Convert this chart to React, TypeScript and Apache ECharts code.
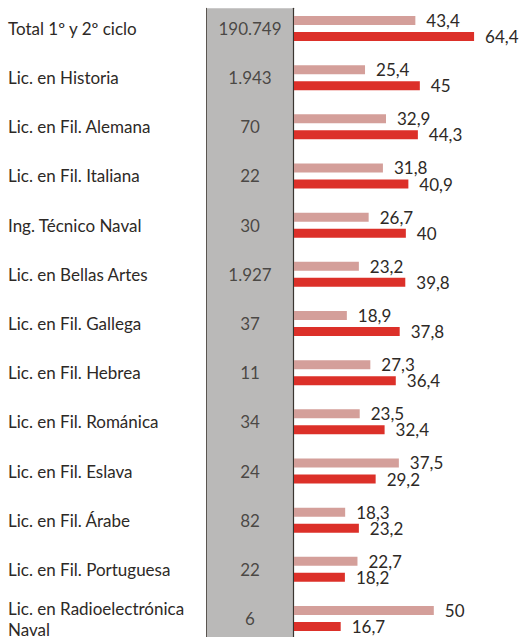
import React, { useEffect, useRef } from "react";
import * as echarts from "echarts";

const categories = [
  "Total 1º y 2º ciclo",
  "Lic. en Historia",
  "Lic. en Fil. Alemana",
  "Lic. en Fil. Italiana",
  "Ing. Técnico Naval",
  "Lic. en Bellas Artes",
  "Lic. en Fil. Gallega",
  "Lic. en Fil. Hebrea",
  "Lic. en Fil. Románica",
  "Lic. en Fil. Eslava",
  "Lic. en Fil. Árabe",
  "Lic. en Fil. Portuguesa",
  "Lic. en Radioelectrónica\nNaval",
];

const counts = [190749, 1943, 70, 22, 30, 1927, 37, 11, 34, 24, 82, 22, 6];

const seriesA = [43.4, 25.4, 32.9, 31.8, 26.7, 23.2, 18.9, 27.3, 23.5, 37.5, 18.3, 22.7, 50];
const seriesB = [64.4, 45, 44.3, 40.9, 40, 39.8, 37.8, 36.4, 32.4, 29.2, 23.2, 18.2, 16.7];

const FONT = "Lato";
const TEXT = "#2d2926";
const FS = 17;

const fmtThousands = (n: number) => String(n).replace(/\B(?=(\d{3})+(?!\d))/g, ".");
const fmtDec = (n: number) => String(n).replace(".", ",");

export default function App() {
  const ref = useRef<HTMLDivElement>(null);
  useEffect(() => {
    if (!ref.current) return;
    const chart = echarts.init(ref.current, null, { renderer: "svg" });
    const rowTop = 3.9;
    const rowH = 639.2;
    chart.setOption({
      animation: false,
      backgroundColor: "#ffffff",
      grid: [
        { left: 294, top: rowTop, height: rowH, width: 223.7, outerBoundsMode: "none", containLabel: false },
        {
          left: 206.5,
          top: 8.3,
          height: 640,
          width: 87,
          show: true,
          backgroundColor: "#bab9b8",
          borderWidth: 0,
          outerBoundsMode: "none",
          containLabel: false,
        },
        { left: 206.5, top: rowTop, height: rowH, width: 87, outerBoundsMode: "none", containLabel: false },
      ],
      xAxis: [
        { gridIndex: 0, type: "value", min: 0, max: 80, show: false },
        { gridIndex: 1, type: "value", min: 0, max: 1, show: false },
        { gridIndex: 2, type: "value", min: 0, max: 1, show: false },
      ],
      yAxis: [
        {
          gridIndex: 0,
          type: "category",
          data: categories,
          inverse: true,
          axisLine: { show: false },
          axisTick: { show: false },
          axisLabel: {
            align: "left",
            margin: 286,
            color: TEXT,
            fontFamily: FONT,
            fontSize: FS,
            lineHeight: 21,
          },
        },
        {
          gridIndex: 1,
          type: "value",
          min: 0,
          max: 1,
          position: "left",
          splitLine: { show: false },
          axisLabel: { show: false },
          axisTick: { show: false },
          axisLine: { show: true, lineStyle: { color: "#5a5550", width: 1 } },
        },
        {
          gridIndex: 1,
          type: "value",
          min: 0,
          max: 1,
          position: "right",
          splitLine: { show: false },
          axisLabel: { show: false },
          axisTick: { show: false },
          axisLine: { show: true, lineStyle: { color: "#3a3530", width: 1.2 } },
        },
        {
          gridIndex: 2,
          type: "category",
          data: categories,
          inverse: true,
          show: false,
        },
      ],
      series: [
        {
          type: "bar",
          xAxisIndex: 0,
          yAxisIndex: 0,
          data: seriesA,
          barWidth: 9,
          barGap: "78%",
          itemStyle: { color: "#d49f9a" },
          label: {
            show: true,
            position: "right",
            distance: 11,
            color: TEXT,
            fontFamily: FONT,
            fontSize: FS,
            formatter: (p: any) => fmtDec(p.value),
          },
        },
        {
          type: "bar",
          xAxisIndex: 0,
          yAxisIndex: 0,
          data: seriesB,
          barWidth: 9,
          itemStyle: { color: "#dc3029" },
          label: {
            show: true,
            position: "right",
            distance: 11,
            color: TEXT,
            fontFamily: FONT,
            fontSize: FS,
            formatter: (p: any) => fmtDec(p.value),
          },
        },
        {
          type: "scatter",
          xAxisIndex: 2,
          yAxisIndex: 3,
          symbolSize: 1,
          itemStyle: { color: "transparent" },
          data: counts.map((c, i) => [0.5, i, c]),
          label: {
            show: true,
            position: "inside",
            color: TEXT,
            fontFamily: FONT,
            fontSize: FS,
            formatter: (p: any) => fmtThousands(p.value[2]),
          },
          z: 5,
        },
      ],
    });
    return () => chart.dispose();
  }, []);
  return (
    <div
      ref={ref}
      style={{ position: "fixed", left: 0, top: 0, width: 520, height: 637 }}
    />
  );
}
